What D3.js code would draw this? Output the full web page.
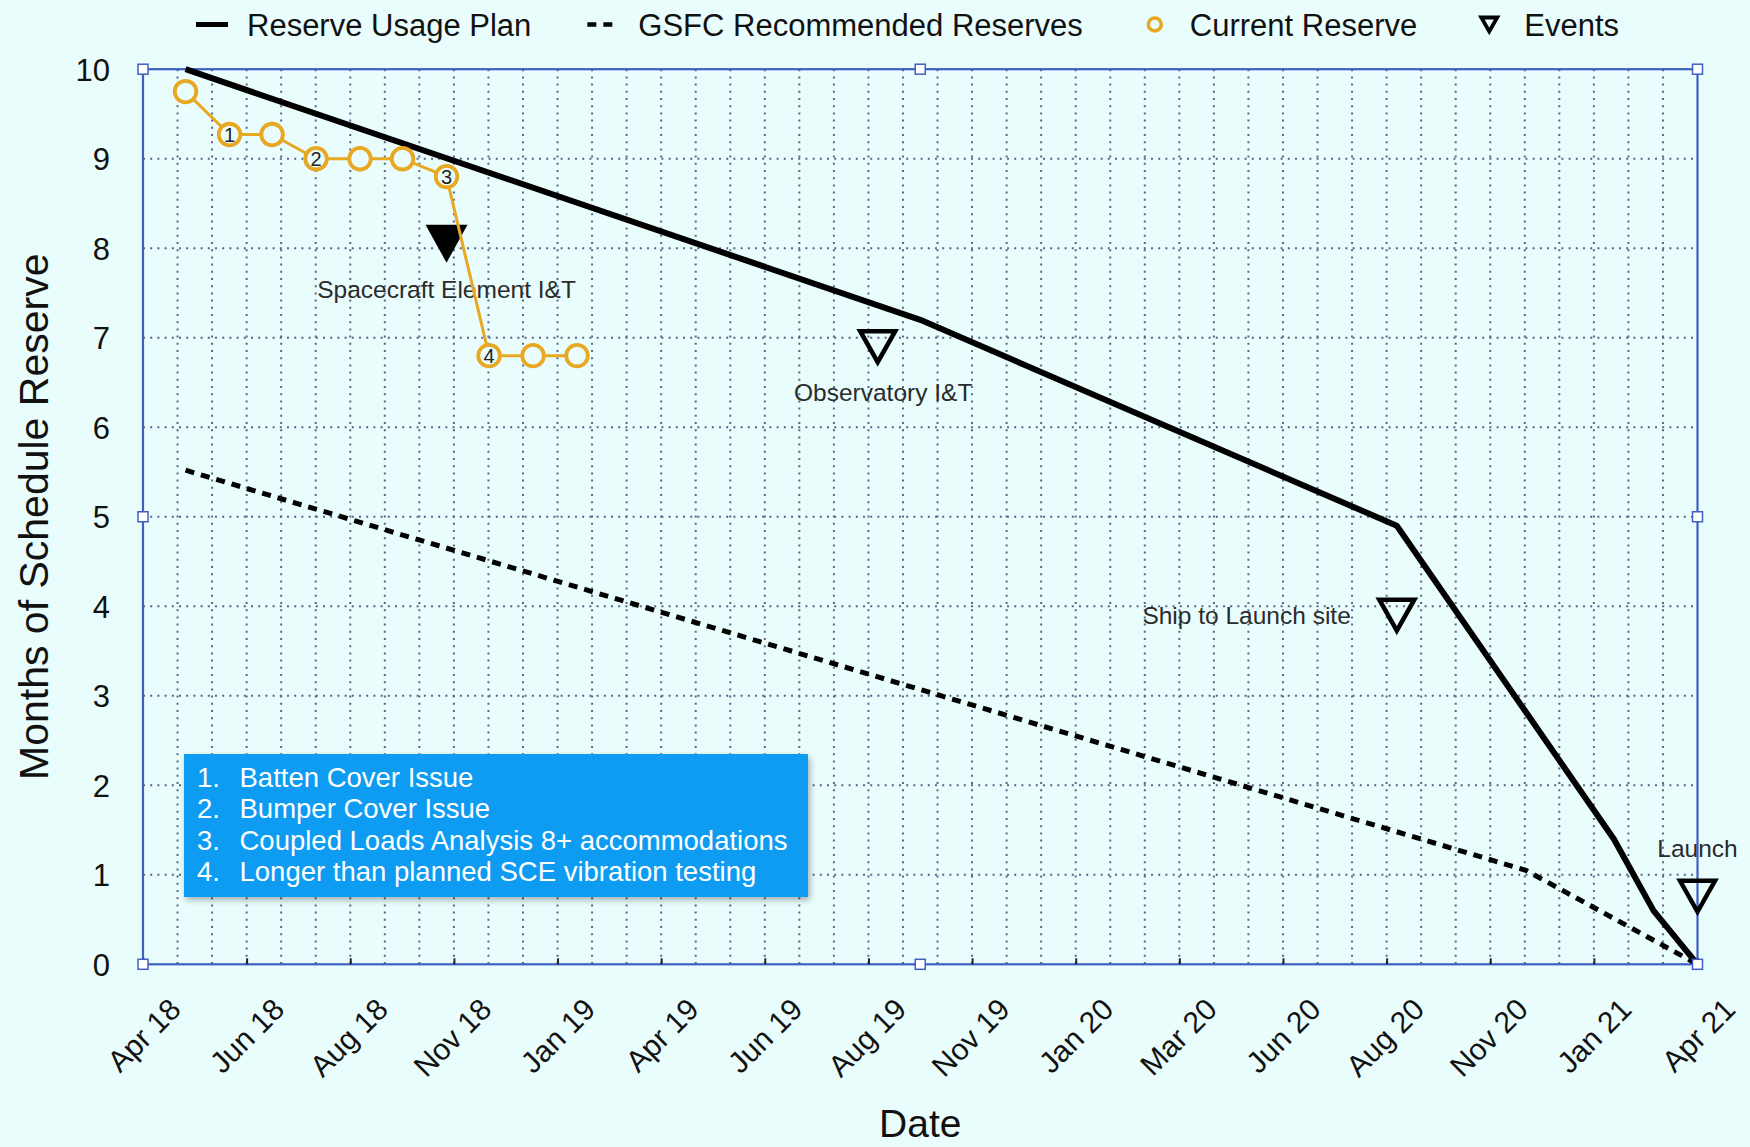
<!DOCTYPE html>
<html>
<head>
<meta charset="utf-8">
<script src="https://cdn.jsdelivr.net/npm/d3@7"></script>
<style>
  html, body { margin: 0; padding: 0; background: #e9fdfd; }
  svg { display: block; font-family: "Liberation Sans", Arial, Helvetica, sans-serif; }
</style>
</head>
<body>
<svg id="chart" width="1750" height="1147"></svg>
<script>
const parse = d3.timeParse("%Y-%m-%d");

// Planned burn-down of schedule reserve (months)
const planDates  = ["2018-05-01", "2019-10-01", "2020-09-01", "2021-02-01", "2021-03-01", "2021-04-01"];
const planValues = [10, 7.2, 4.9, 1.4, 0.6, 0];

// GSFC recommended reserve level (months)
const gsfcDates  = ["2018-05-01", "2020-12-01", "2021-04-01"];
const gsfcValues = [5.52, 1.05, 0];

// Reserve actually held, month by month
const currentDates  = ["2018-05-01", "2018-06-01", "2018-07-01", "2018-08-01", "2018-09-01",
                       "2018-10-01", "2018-11-01", "2018-12-01", "2019-01-01", "2019-02-01"];
const currentValues = [9.75, 9.27, 9.27, 9.0, 9.0, 9.0, 8.8, 6.8, 6.8, 6.8];
const currentNotes  = ["", "1", "", "2", "", "", "3", "4", "", ""];

// Milestones
const eventNames  = ["Spacecraft Element I&T", "Observatory I&T", "Ship to Launch site", "Launch"];
const eventDates  = ["2018-11-01", "2019-09-01", "2020-09-01", "2021-04-01"];
const eventValues = [8.05, 6.9, 3.9, 0.76];
const eventDone   = [true, false, false, false];

// Reasons for reserve usage, keyed by the numbers on the current-reserve markers
const noteTexts = ["Batten Cover Issue", "Bumper Cover Issue",
                   "Coupled Loads Analysis 8+ accommodations",
                   "Longer than planned SCE vibration testing"];

const dateDomain   = ["2018-04-01", "2021-04-01"];
const xTickLabels  = ["Apr 18", "Jun 18", "Aug 18", "Nov 18", "Jan 19", "Apr 19", "Jun 19", "Aug 19",
                      "Nov 19", "Jan 20", "Mar 20", "Jun 20", "Aug 20", "Nov 20", "Jan 21", "Apr 21"];
const yTicks       = [0, 1, 2, 3, 4, 5, 6, 7, 8, 9, 10];
const legendLabels = ["Reserve Usage Plan", "GSFC Recommended Reserves", "Current Reserve", "Events"];

// ---------------------------------------------------------------------------
const W = 1750, H = 1147;
const plot = { left: 143, right: 1697.5, top: 69.2, bottom: 964.3 };
const ORANGE = "#e8a823", FRAME = "#3e60c2", GRID = "#5a6589", BG = "#e9fdfd";

const svg = d3.select("#chart");
svg.append("rect").attr("width", W).attr("height", H).attr("fill", BG);

const d0 = parse(dateDomain[0]), d1 = parse(dateDomain[1]);
const x = d3.scaleTime().domain([d0, d1]).range([plot.left, plot.right]);
const y = d3.scaleLinear().domain([0, 10]).range([plot.bottom, plot.top]);

// Evenly spaced date ticks across the full span
const nT = xTickLabels.length;
const tickDates = xTickLabels.map((_, i) => new Date(+d0 + i * (d1 - d0) / (nT - 1)));

// ---- grid -----------------------------------------------------------------
const grid = svg.append("g").attr("stroke", GRID).attr("stroke-width", 2)
  .attr("stroke-dasharray", "2 5.2").attr("fill", "none");
const minorPerMajor = 3;
const nV = (nT - 1) * minorPerMajor;
d3.range(1, nV).forEach(i => {
  const gx = x(new Date(+d0 + i * (d1 - d0) / nV));
  grid.append("line").attr("x1", gx).attr("x2", gx).attr("y1", plot.top).attr("y2", plot.bottom);
});
yTicks.filter(v => v > 0 && v < 10).forEach(v => {
  grid.append("line").attr("x1", plot.left).attr("x2", plot.right).attr("y1", y(v)).attr("y2", y(v));
});

// ---- frame ----------------------------------------------------------------
svg.append("rect")
  .attr("x", plot.left).attr("y", plot.top)
  .attr("width", plot.right - plot.left).attr("height", plot.bottom - plot.top)
  .attr("fill", "none").attr("stroke", FRAME).attr("stroke-width", 2.2);

// ---- axes -----------------------------------------------------------------
const xAxis = svg.append("g")
  .attr("transform", `translate(0,${plot.bottom})`)
  .call(d3.axisBottom(x).tickValues(tickDates).tickFormat((d, i) => xTickLabels[i])
        .tickSizeInner(-6).tickSizeOuter(0));
xAxis.select(".domain").remove();
xAxis.selectAll(".tick line").attr("stroke", "#222").attr("stroke-width", 2);
xAxis.selectAll(".tick text")
  .attr("x", 0).attr("y", 0).attr("dy", 0)
  .attr("text-anchor", "end")
  .attr("transform", "translate(39,47) rotate(-45)")
  .attr("font-size", 30).attr("font-family", "Liberation Sans, Arial, sans-serif")
  .attr("fill", "#111");

const yAxis = svg.append("g")
  .attr("transform", `translate(${plot.left},0)`)
  .call(d3.axisLeft(y).tickValues(yTicks).tickFormat(d3.format("d")).tickSize(0).tickPadding(33));
yAxis.select(".domain").remove();
yAxis.selectAll(".tick text")
  .attr("font-size", 31).attr("font-family", "Liberation Sans, Arial, sans-serif")
  .attr("fill", "#111").attr("dy", "0.36em");

svg.append("text")
  .attr("transform", `translate(48,${(plot.top + plot.bottom) / 2}) rotate(-90)`)
  .attr("text-anchor", "middle").attr("font-size", 41).attr("fill", "#111")
  .text("Months of Schedule Reserve");

svg.append("text")
  .attr("x", (plot.left + plot.right) / 2).attr("y", 1137)
  .attr("text-anchor", "middle").attr("font-size", 39).attr("fill", "#111")
  .text("Date");

// ---- series ---------------------------------------------------------------
const lineGen = d3.line().x(d => x(d[0])).y(d => y(d[1]));

const gsfcData = gsfcDates.map((d, i) => [parse(d), gsfcValues[i]]);
svg.append("path").datum(gsfcData)
  .attr("d", lineGen).attr("fill", "none").attr("stroke", "#000")
  .attr("stroke-width", 5).attr("stroke-dasharray", "9 7");

const planData = planDates.map((d, i) => [parse(d), planValues[i]]);
svg.append("path").datum(planData)
  .attr("d", lineGen).attr("fill", "none").attr("stroke", "#000")
  .attr("stroke-width", 6).attr("stroke-linejoin", "round");

// ---- events ---------------------------------------------------------------
const tri = (w, h) => `M${-w / 2},${-h / 2}L${w / 2},${-h / 2}L0,${h / 2}Z`;
const labelPlacement = [
  { dx: 0,   dy: 54,  anchor: "middle" },
  { dx: 5.5, dy: 54,  anchor: "middle" },
  { dx: -46, dy: 9,   anchor: "end" },
  { dx: 0,   dy: -39, anchor: "middle" }
];
eventNames.forEach((name, i) => {
  const ex = x(parse(eventDates[i])), ey = y(eventValues[i]);
  const g = svg.append("g").attr("transform", `translate(${ex},${ey})`);
  if (eventDone[i]) {
    g.append("path").attr("d", tri(42, 38)).attr("fill", "#000");
  } else {
    g.append("path").attr("d", tri(35, 31)).attr("fill", "none")
      .attr("stroke", "#000").attr("stroke-width", 4.5).attr("stroke-linejoin", "miter");
  }
  const p = labelPlacement[i];
  g.append("text").attr("x", p.dx).attr("y", p.dy).attr("text-anchor", p.anchor)
    .attr("font-size", 24.5).attr("fill", "#2b2b2b").text(name);
});

// ---- current reserve ------------------------------------------------------
const curData = currentDates.map((d, i) => [parse(d), currentValues[i], currentNotes[i]]);
svg.append("path").datum(curData)
  .attr("d", lineGen).attr("fill", "none").attr("stroke", ORANGE).attr("stroke-width", 3);
const marks = svg.append("g").selectAll("g").data(curData).join("g")
  .attr("transform", d => `translate(${x(d[0])},${y(d[1])})`);
marks.append("circle").attr("r", 10.8).attr("fill", BG)
  .attr("stroke", ORANGE).attr("stroke-width", 3.8);
marks.filter(d => d[2] !== "").append("text")
  .attr("text-anchor", "middle").attr("dy", "0.36em")
  .attr("font-size", 20).attr("fill", "#222").text(d => d[2]);

// ---- selection handles on the frame ---------------------------------------
const midX = (plot.left + plot.right) / 2, midY = (plot.top + plot.bottom) / 2;
const handles = [[plot.left, plot.top], [midX, plot.top], [plot.right, plot.top],
                 [plot.left, midY], [plot.right, midY],
                 [plot.left, plot.bottom], [midX, plot.bottom], [plot.right, plot.bottom]];
svg.append("g").selectAll("rect").data(handles).join("rect")
  .attr("x", d => d[0] - 5).attr("y", d => d[1] - 5).attr("width", 10).attr("height", 10)
  .attr("fill", "#fff").attr("stroke", FRAME).attr("stroke-width", 1.5);

// ---- notes box ------------------------------------------------------------
const defs = svg.append("defs");
const f = defs.append("filter").attr("id", "shadow")
  .attr("x", "-5%").attr("y", "-10%").attr("width", "115%").attr("height", "130%");
f.append("feDropShadow").attr("dx", 2).attr("dy", 3).attr("stdDeviation", 3)
  .attr("flood-color", "#000").attr("flood-opacity", 0.3);

const box = svg.append("g").attr("transform", "translate(184,754)");
box.append("rect").attr("width", 624).attr("height", 143)
  .attr("fill", "#0b9cf2").attr("filter", "url(#shadow)");
noteTexts.forEach((t, i) => {
  const by = 33 + i * 31.3;
  box.append("text").attr("x", 13).attr("y", by).attr("font-size", 27.5).attr("fill", "#fff")
    .text(`${i + 1}.`);
  box.append("text").attr("x", 55.5).attr("y", by).attr("font-size", 27.5).attr("fill", "#fff")
    .text(t);
});

// ---- legend ---------------------------------------------------------------
const legendKinds = ["line", "dash", "circle", "triangle"];
const leg = svg.append("g").attr("transform", "translate(0,24.5)");
let lx = 196;
legendLabels.forEach((label, i) => {
  const g = leg.append("g").attr("transform", `translate(${lx},0)`);
  const kind = legendKinds[i];
  if (kind === "line") {
    g.append("line").attr("x1", 0).attr("x2", 32).attr("stroke", "#000").attr("stroke-width", 5);
  } else if (kind === "dash") {
    g.append("line").attr("x1", 0).attr("x2", 28).attr("stroke", "#000")
      .attr("stroke-width", 4.5).attr("stroke-dasharray", "9 7");
  } else if (kind === "circle") {
    g.append("circle").attr("cx", 16).attr("r", 6.5).attr("fill", BG)
      .attr("stroke", ORANGE).attr("stroke-width", 3.5);
  } else {
    g.append("path").attr("transform", "translate(16,0)").attr("d", tri(16, 14))
      .attr("fill", "none").attr("stroke", "#000").attr("stroke-width", 3.8);
  }
  const t = g.append("text").attr("x", 51).attr("y", 11).attr("font-size", 31)
    .attr("fill", "#111").text(label);
  lx += 51 + t.node().getComputedTextLength() + 56;
});
</script>
</body>
</html>
